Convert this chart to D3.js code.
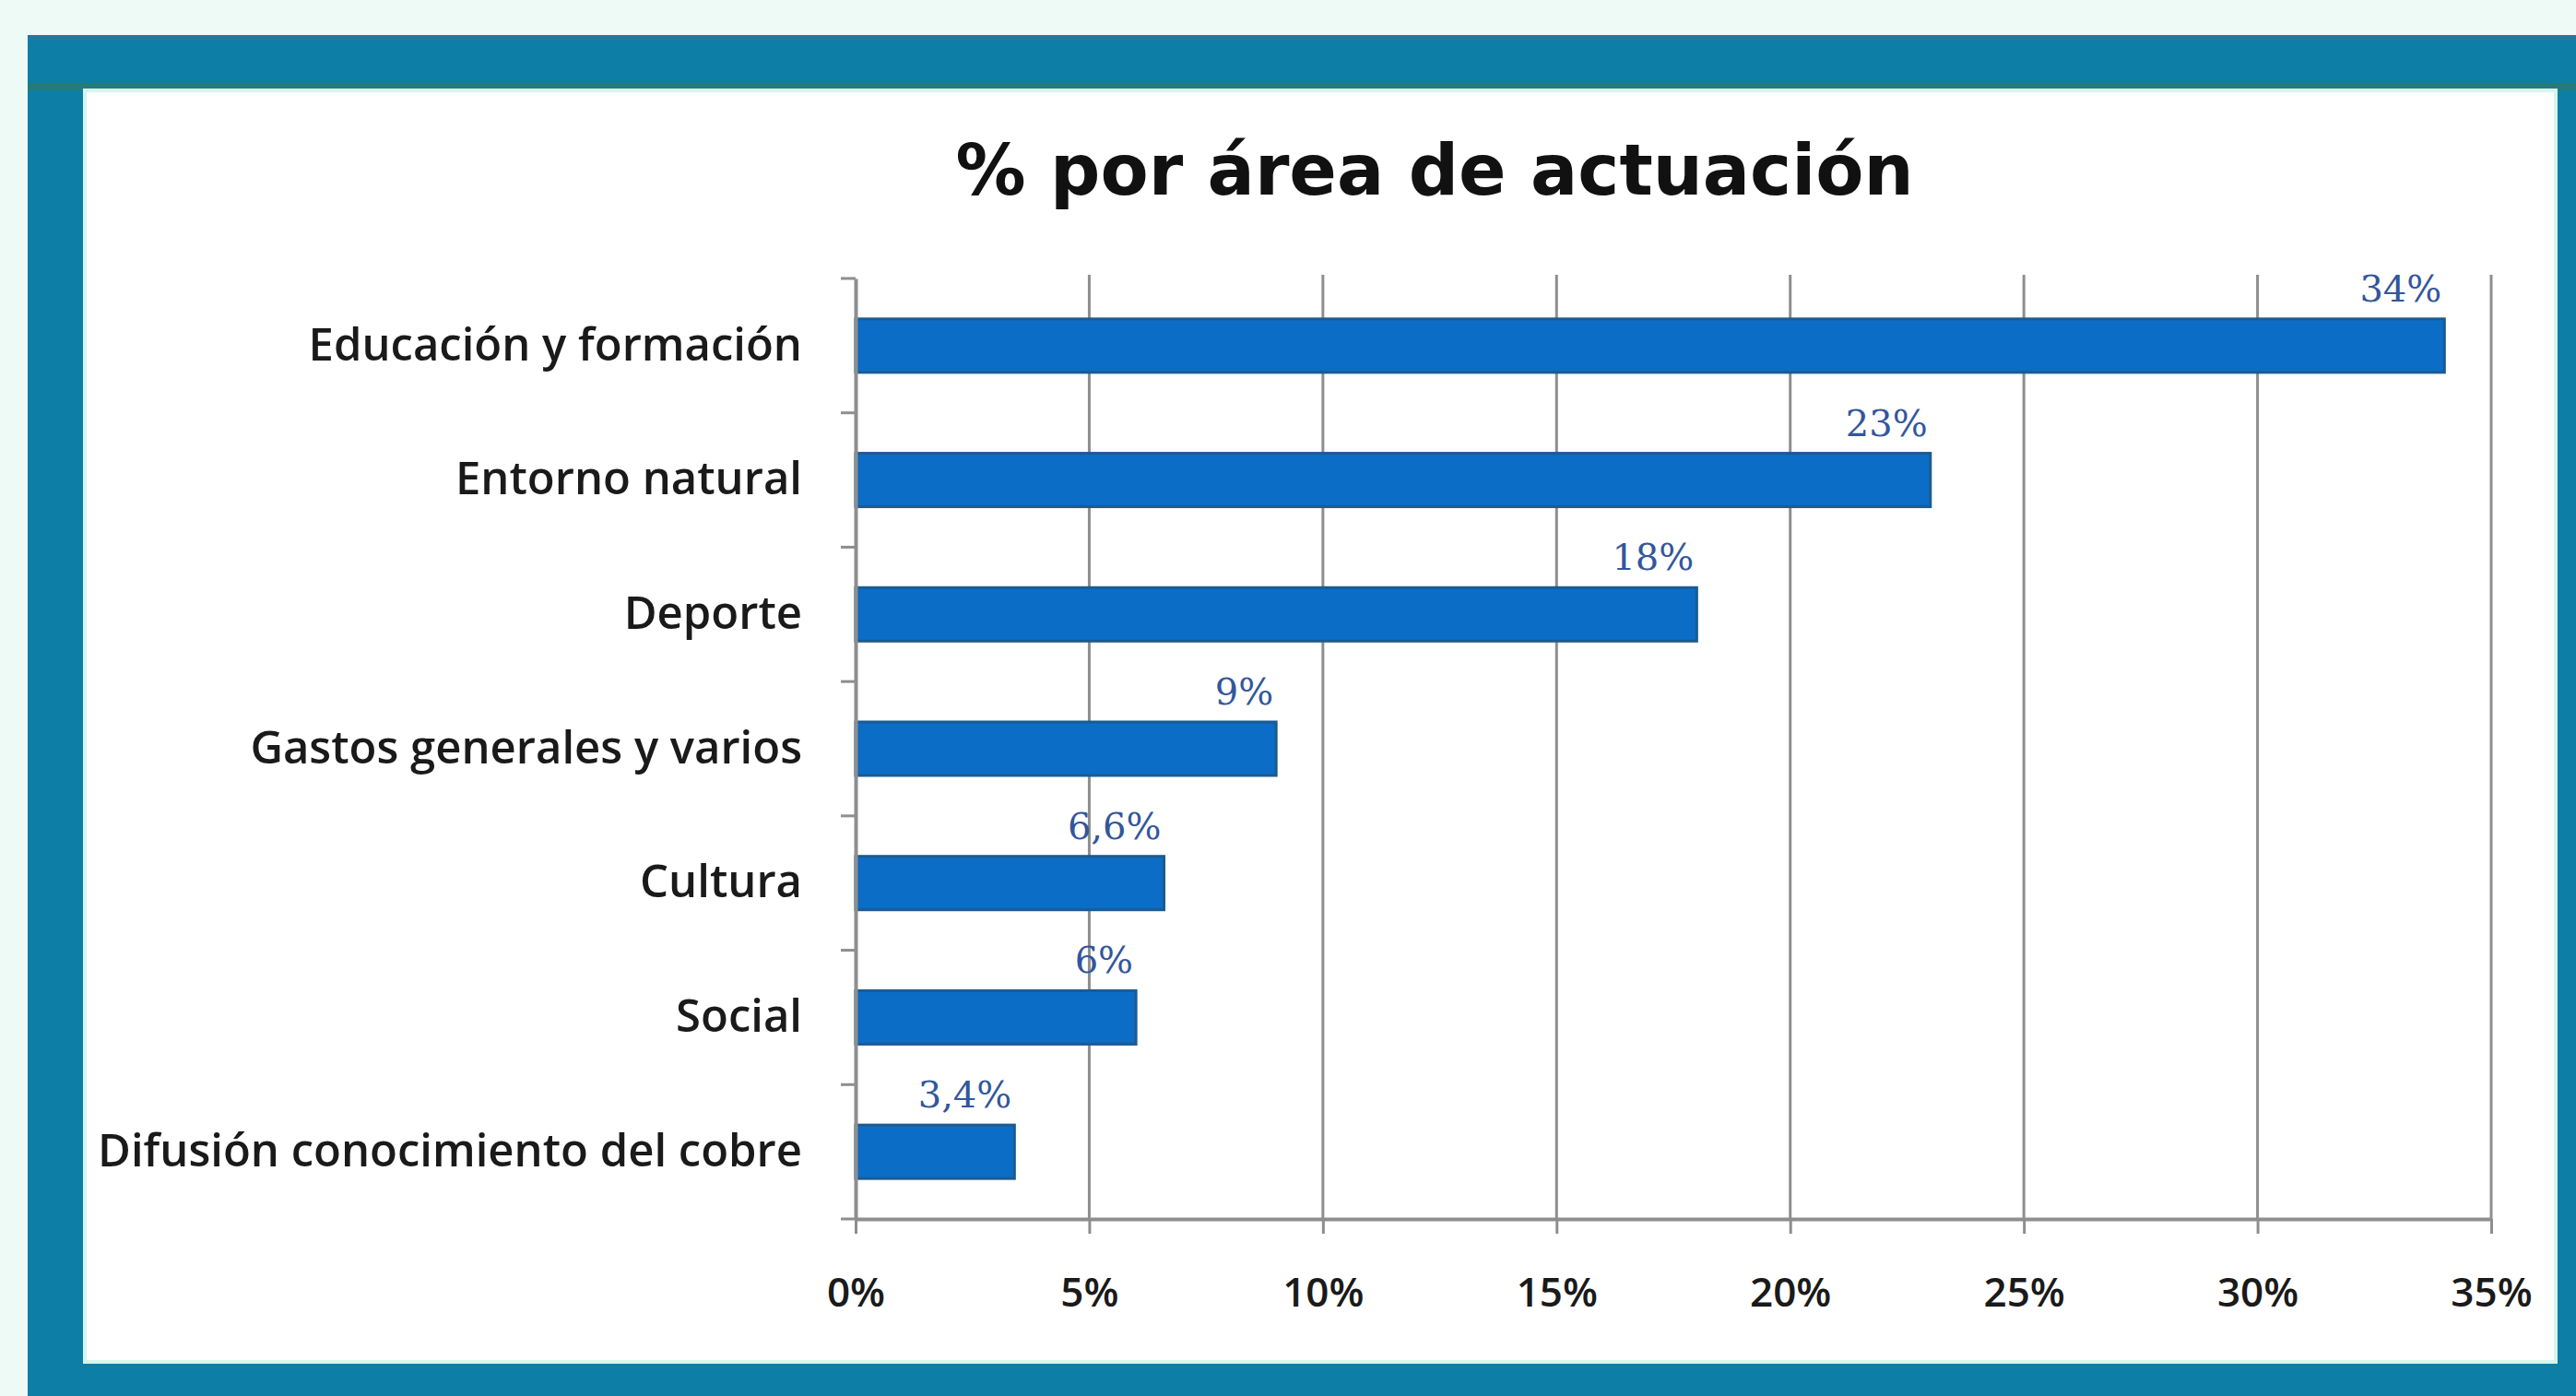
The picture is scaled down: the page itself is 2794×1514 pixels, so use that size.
<!DOCTYPE html>
<html>
<head>
<meta charset="utf-8">
<script src="https://cdn.jsdelivr.net/npm/d3@7"></script>
<style>
  html, body { margin: 0; padding: 0; background: #eefaf6; }
  svg { display: block; }
</style>
</head>
<body>
<svg id="chart" width="2794" height="1514"></svg>
<script>
const categories = [
  "Educación y formación",
  "Entorno natural",
  "Deporte",
  "Gastos generales y varios",
  "Cultura",
  "Social",
  "Difusión conocimiento del cobre"
];
const values = [34, 23, 18, 9, 6.6, 6, 3.4];
const valueLabels = ["34%", "23%", "18%", "9%", "6,6%", "6%", "3,4%"];
const xTicks = [0, 5, 10, 15, 20, 25, 30, 35];
const xTickLabels = ["0%", "5%", "10%", "15%", "20%", "25%", "30%", "35%"];
const title = "% por área de actuación";

const svg = d3.select("#chart");

// frame
svg.append("rect").attr("x", 0).attr("y", 0).attr("width", 2794).attr("height", 1514).attr("fill", "#eefaf6");
svg.append("rect").attr("x", 30).attr("y", 38).attr("width", 2764).attr("height", 1476).attr("fill", "#0d7ea6");
svg.append("rect").attr("x", 30).attr("y", 38).attr("width", 2764).attr("height", 6).attr("fill", "#2177a6");
svg.append("rect").attr("x", 30).attr("y", 90).attr("width", 2764).attr("height", 8).attr("fill", "#257a7c");
svg.append("rect").attr("x", 92).attr("y", 98).attr("width", 2680).attr("height", 1379)
  .attr("fill", "#ffffff").attr("stroke", "#d4f6ee").attr("stroke-width", 4);

// scales
const x = d3.scaleLinear().domain([0, 35]).range([928, 2702]);
const y = d3.scaleBand().domain(categories).range([302, 1322]).padding(0);
const barH = 58;

// gridlines
svg.append("g").selectAll("line").data(xTicks.filter(d => d > 0)).join("line")
  .attr("x1", d => x(d)).attr("x2", d => x(d))
  .attr("y1", 298).attr("y2", 1322)
  .attr("stroke", "#8e8e8e").attr("stroke-width", 3);

// bars
svg.append("g").selectAll("rect").data(values).join("rect")
  .attr("x", x(0))
  .attr("y", (d, i) => y(categories[i]) + y.bandwidth() / 2 - barH / 2)
  .attr("width", d => x(d) - x(0))
  .attr("height", barH)
  .attr("fill", "#0b6dc6")
  .attr("stroke", "#1b5b92").attr("stroke-width", 3);

// value labels
svg.append("g").selectAll("text").data(values).join("text")
  .attr("x", d => x(d) - 3)
  .attr("y", (d, i) => y(categories[i]) + y.bandwidth() / 2 - 48)
  .attr("text-anchor", "end")
  .attr("font-family", "'DejaVu Serif', 'Liberation Serif', serif")
  .attr("font-size", 40)
  .attr("fill", "#33569c")
  .text((d, i) => valueLabels[i]);

// x axis
const xAxis = svg.append("g").attr("transform", "translate(0,1322)")
  .call(d3.axisBottom(x).tickValues(xTicks).tickFormat((d, i) => xTickLabels[i]).tickSize(16).tickPadding(48).tickSizeOuter(0));
xAxis.select(".domain").attr("stroke", "#8e8e8e").attr("stroke-width", 4);
xAxis.selectAll(".tick line").attr("stroke", "#8e8e8e").attr("stroke-width", 3);
xAxis.selectAll(".tick text")
  .attr("font-family", "'Open Sans', sans-serif").attr("font-size", 44).attr("font-weight", 600)
  .attr("fill", "#1a1a1a");

// y axis
const yAxis = svg.append("g").attr("transform", "translate(928,0)")
  .call(d3.axisLeft(y).tickSize(0).tickPadding(58).tickSizeOuter(0));
yAxis.select(".domain").attr("stroke", "#8e8e8e").attr("stroke-width", 4);
yAxis.selectAll(".tick text")
  .attr("font-family", "'Open Sans', sans-serif").attr("font-size", 49).attr("font-weight", 600)
  .attr("fill", "#1a1a1a");

// y boundary ticks
svg.append("g").selectAll("line").data(categories.map(c => y(c)).concat([y.range()[1]])).join("line")
  .attr("x1", 912).attr("x2", 928)
  .attr("y1", d => d).attr("y2", d => d)
  .attr("stroke", "#8e8e8e").attr("stroke-width", 3);

// title
svg.append("text")
  .attr("x", 1556).attr("y", 211)
  .attr("text-anchor", "middle")
  .attr("font-family", "'DejaVu Sans', Verdana, sans-serif")
  .attr("font-weight", "bold")
  .attr("font-size", 76)
  .attr("fill", "#111")
  .text(title);
</script>
</body>
</html>
